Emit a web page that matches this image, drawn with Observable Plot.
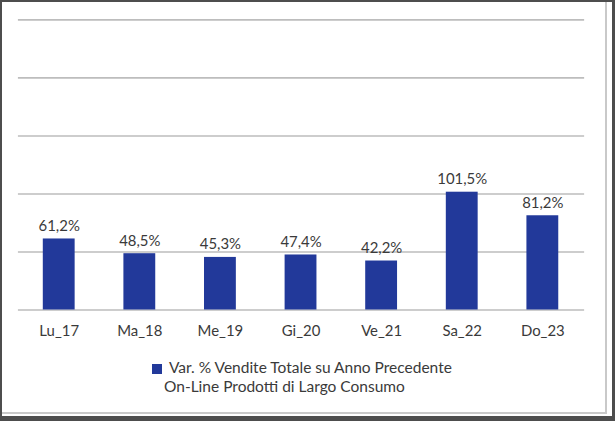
<!DOCTYPE html>
<html>
<head>
<meta charset="utf-8">
<script src="https://cdn.jsdelivr.net/npm/d3@7"></script>
<script src="https://cdn.jsdelivr.net/npm/@observablehq/plot@0.6"></script>
<style>
  html, body { margin: 0; padding: 0; }
  body { width: 615px; height: 421px; background: #4d4d4d; position: relative; overflow: hidden; font-family: Lato, "Noto Sans", sans-serif; }
  #card { position: absolute; left: 2px; top: 2px; width: 610px; height: 414px; background: #fff; }
  #edge { position: absolute; left: 0; top: 0; width: 603px; height: 410px; border-right: 2px solid #c9c9c9; border-bottom: 2px solid #c9c9c9; }
  #chart { position: absolute; left: -2px; top: -2px; }
  #legend { position: absolute; left: 150px; top: 356px; color: #3a3a3a; font-size: 15.5px; line-height: 19px; }
  #legend .sw { display: inline-block; width: 10px; height: 10px; background: #22399a; margin-right: 7px; vertical-align: -1px; }
  #legend .l2 { padding-left: 12px; }
</style>
</head>
<body>
<div id="card">
  <div id="edge"></div>
  <div id="chart"></div>
  <div id="legend"></div>
</div>
<script>
const categories = ["Lu_17", "Ma_18", "Me_19", "Gi_20", "Ve_21", "Sa_22", "Do_23"];
const values = [61.2, 48.5, 45.3, 47.4, 42.2, 101.5, 81.2];
const yTicks = [0, 50, 100, 150, 200, 250];
const seriesName = ["Var. % Vendite Totale su Anno Precedente", "On-Line Prodotti di Largo Consumo"];

const data = categories.map((c, i) => ({day: c, value: values[i]}));
const fmt = v => v.toFixed(1).replace(".", ",") + "%";

const chart = Plot.plot({
  width: 615,
  height: 345,
  marginLeft: 18,
  marginRight: 28,
  marginTop: 19.5,
  marginBottom: 34,
  style: {fontFamily: "Lato, 'Noto Sans', sans-serif", fontSize: "15px", color: "#3a3a3a", background: "transparent"},
  x: {domain: categories, paddingInner: 0.6, paddingOuter: 0.3, label: null, tickSize: 0, tickPadding: 15},
  y: {domain: [0, 250], axis: null},
  marks: [
    Plot.ruleY(yTicks, {stroke: "#bdbdbd", strokeWidth: 1.6}),
    Plot.barY(data, {x: "day", y: "value", fill: "#22399a"}),
    Plot.text(data, {x: "day", y: "value", text: d => fmt(d.value), lineAnchor: "bottom", dy: -8, fill: "#3a3a3a", fontSize: 15})
  ]
});
document.getElementById("chart").appendChild(chart);

const lg = document.getElementById("legend");
lg.innerHTML = `<div><span class="sw"></span>${seriesName[0]}</div><div class="l2">${seriesName[1]}</div>`;
</script>
</body>
</html>
